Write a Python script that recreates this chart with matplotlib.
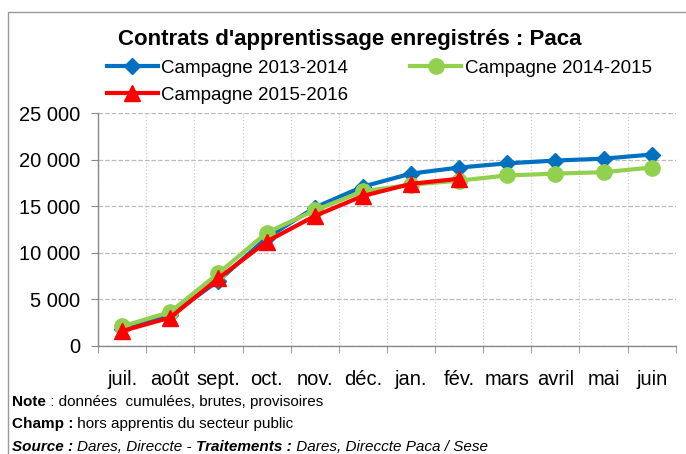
import matplotlib.pyplot as plt
from matplotlib.patches import Rectangle

plt.rcParams['font.family'] = ['Liberation Sans', 'DejaVu Sans']

# ==================== données ====================
mois = ['juil.', 'août', 'sept.', 'oct.', 'nov.', 'déc.', 'jan.', 'fév.', 'mars', 'avril', 'mai', 'juin']
camp_2013 = [1800, 3300, 7000, 11600, 14850, 17100, 18500, 19150, 19600, 19900, 20100, 20550]
camp_2014 = [2100, 3650, 7800, 12150, 14550, 16600, 17300, 17750, 18300, 18500, 18650, 19150]
camp_2015 = [1600, 3050, 7250, 11200, 13950, 16100, 17400, 17950]
y_ticks = [0, 5000, 10000, 15000, 20000, 25000]
y_labels = ['0', '5 000', '10 000', '15 000', '20 000', '25 000']

fig = plt.figure(figsize=(6.86, 4.54), dpi=100)
ax = fig.add_axes([0.143, 0.238, 0.842, 0.513])

x = list(range(len(mois)))
l1, = ax.plot(x, camp_2013, color='#0070C0', lw=3, marker='D', ms=8, label='Campagne 2013-2014', zorder=3)
l2, = ax.plot(x, camp_2014, color='#92D050', lw=3, marker='o', ms=11, label='Campagne 2014-2015', zorder=4)
l3, = ax.plot(x[:len(camp_2015)], camp_2015, color='#FF0000', lw=3, marker='^', ms=11,
              label='Campagne 2015-2016', zorder=5)

ax.set_xlim(-0.5, len(mois) - 0.5)
ax.set_ylim(0, 25000)
ax.set_yticks(y_ticks)
ax.set_yticklabels(y_labels, fontsize=14.5)
ax.set_xticks(x)
ax.set_xticklabels(mois, fontsize=14.5)
ax.tick_params(axis='x', length=0, pad=17)
ax.set_xticks([i - 0.5 for i in range(len(mois) + 1)], minor=True)
ax.tick_params(axis='x', which='minor', length=5, color='#888888', direction='out')
ax.tick_params(axis='y', length=5, color='#888888', pad=8)

ax.grid(axis='y', color='#BBBBBB', ls='--', lw=0.9)
ax.grid(axis='x', which='minor', color='#CCCCCC', ls=':', lw=0.9)
ax.set_axisbelow(True)
for s in ['top', 'right']:
    ax.spines[s].set_visible(False)
for s in ['left', 'bottom']:
    ax.spines[s].set_color('#888888')
    ax.spines[s].set_linewidth(1.0)

fig.text(0.51, 0.913, "Contrats d'apprentissage enregistrés : Paca", ha='center', va='center',
         fontsize=16, fontweight='bold')
fig.legend(handles=[l1, l3, l2], ncol=2, loc='center left', bbox_to_anchor=(0.145, 0.82),
           frameon=False, fontsize=13.5, handlelength=2.7, handletextpad=0.2,
           columnspacing=3.3, labelspacing=0.5, borderaxespad=0)

# notes de bas : morceaux enchaînés (gras / normal)
renderer = fig.canvas.get_renderer()
def ligne(y, morceaux, style='normal'):
    xpos = 0.017
    for txt, poids in morceaux:
        t = fig.text(xpos, y, txt, fontsize=11, va='center', fontweight=poids, style=style)
        xpos += t.get_window_extent(renderer=renderer).width / fig.bbox.width

ligne(0.114, [('Note', 'bold'), (' : données  cumulées, brutes, provisoires', 'normal')])
ligne(0.066, [('Champ :', 'bold'), (' hors apprentis du secteur public', 'normal')])
ligne(0.016, [('Source : ', 'bold'), ('Dares, Direccte - ', 'normal'),
              ('Traitements :', 'bold'), (' Dares, Direccte Paca / Sese', 'normal')], style='italic')

fig.patches.append(Rectangle((0.011, -0.05), 1.2, 1.024, transform=fig.transFigure,
                             fill=False, ec='#999999', lw=1.0))

fig.savefig('out.png', dpi=100)
